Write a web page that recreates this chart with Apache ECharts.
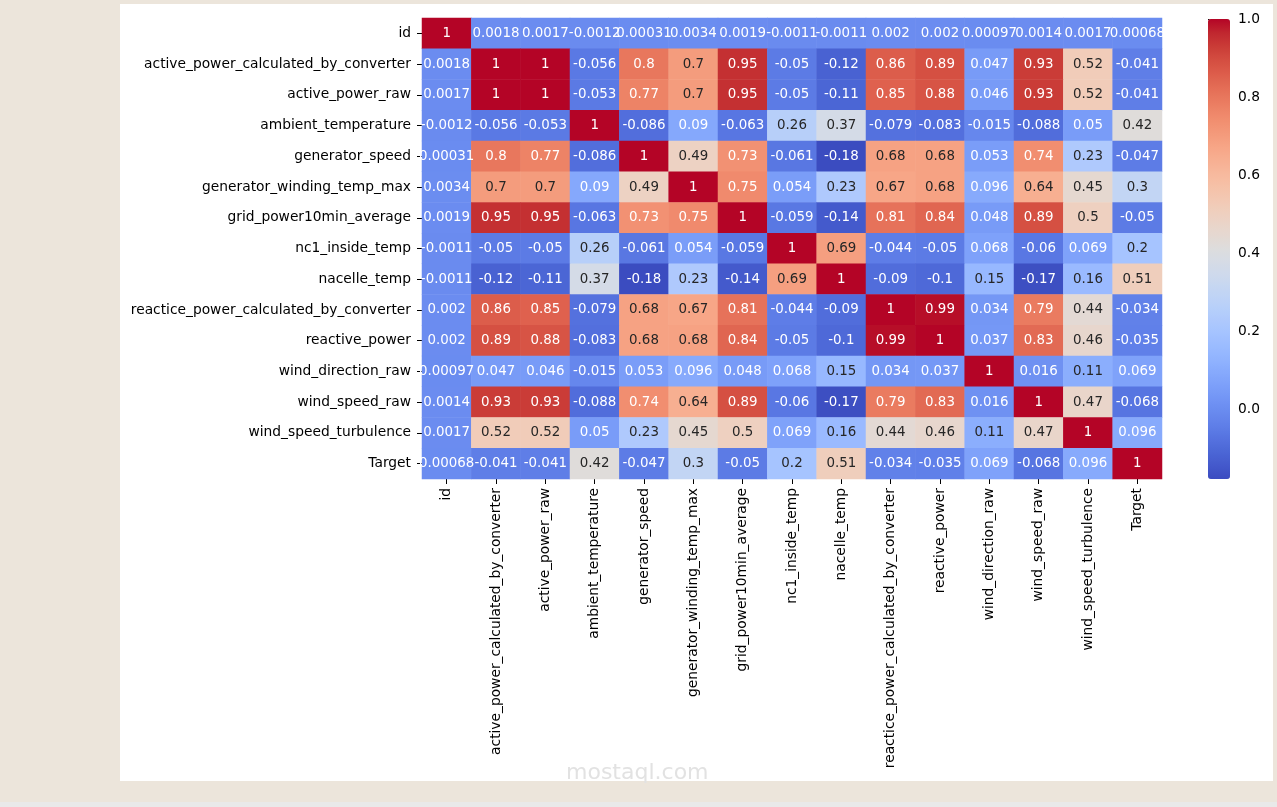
<!DOCTYPE html>
<html>
<head>
<meta charset="utf-8">
<script src="https://cdn.jsdelivr.net/npm/echarts@6/dist/echarts.min.js"></script>
<style>
  html, body { margin: 0; padding: 0; }
  body { width: 1277px; height: 807px; background: #ece5db; position: relative; overflow: hidden; }
  #panel { position: absolute; left: 120px; top: 4px; width: 1153px; height: 777px; background: #fff; }
  #strip { position: absolute; left: 0; top: 802px; width: 1277px; height: 5px; background: #e9e9e9; }
  #main { position: absolute; left: 0; top: 0; width: 1277px; height: 807px; }
</style>
</head>
<body>
<div id="panel"></div>
<div id="strip"></div>
<div id="main"></div>
<script>
// column / row names of the correlation matrix
var features = ['id', 'active_power_calculated_by_converter', 'active_power_raw', 'ambient_temperature',
    'generator_speed', 'generator_winding_temp_max', 'grid_power10min_average', 'nc1_inside_temp',
    'nacelle_temp', 'reactice_power_calculated_by_converter', 'reactive_power', 'wind_direction_raw',
    'wind_speed_raw', 'wind_speed_turbulence', 'Target'];

// one row per feature, same order as features
var corrRows = [
    [1, 0.0018, 0.0017, -0.0012, 0.00031, 0.0034, 0.0019, -0.0011, -0.0011, 0.002, 0.002, 0.00097, 0.0014, 0.0017, 0.00068],
    [0.0018, 1, 1, -0.056, 0.8, 0.7, 0.95, -0.05, -0.12, 0.86, 0.89, 0.047, 0.93, 0.52, -0.041],
    [0.0017, 1, 1, -0.053, 0.77, 0.7, 0.95, -0.05, -0.11, 0.85, 0.88, 0.046, 0.93, 0.52, -0.041],
    [-0.0012, -0.056, -0.053, 1, -0.086, 0.09, -0.063, 0.26, 0.37, -0.079, -0.083, -0.015, -0.088, 0.05, 0.42],
    [0.00031, 0.8, 0.77, -0.086, 1, 0.49, 0.73, -0.061, -0.18, 0.68, 0.68, 0.053, 0.74, 0.23, -0.047],
    [0.0034, 0.7, 0.7, 0.09, 0.49, 1, 0.75, 0.054, 0.23, 0.67, 0.68, 0.096, 0.64, 0.45, 0.3],
    [0.0019, 0.95, 0.95, -0.063, 0.73, 0.75, 1, -0.059, -0.14, 0.81, 0.84, 0.048, 0.89, 0.5, -0.05],
    [-0.0011, -0.05, -0.05, 0.26, -0.061, 0.054, -0.059, 1, 0.69, -0.044, -0.05, 0.068, -0.06, 0.069, 0.2],
    [-0.0011, -0.12, -0.11, 0.37, -0.18, 0.23, -0.14, 0.69, 1, -0.09, -0.1, 0.15, -0.17, 0.16, 0.51],
    [0.002, 0.86, 0.85, -0.079, 0.68, 0.67, 0.81, -0.044, -0.09, 1, 0.99, 0.034, 0.79, 0.44, -0.034],
    [0.002, 0.89, 0.88, -0.083, 0.68, 0.68, 0.84, -0.05, -0.1, 0.99, 1, 0.037, 0.83, 0.46, -0.035],
    [0.00097, 0.047, 0.046, -0.015, 0.053, 0.096, 0.048, 0.068, 0.15, 0.034, 0.037, 1, 0.016, 0.11, 0.069],
    [0.0014, 0.93, 0.93, -0.088, 0.74, 0.64, 0.89, -0.06, -0.17, 0.79, 0.83, 0.016, 1, 0.47, -0.068],
    [0.0017, 0.52, 0.52, 0.05, 0.23, 0.45, 0.5, 0.069, 0.16, 0.44, 0.46, 0.11, 0.47, 1, 0.096],
    [0.00068, -0.041, -0.041, 0.42, -0.047, 0.3, -0.05, 0.2, 0.51, -0.034, -0.035, 0.069, -0.068, 0.096, 1]
];

var colorbarTicks = [0, 0.2, 0.4, 0.6, 0.8, 1.0];
var vmin = -0.177, vmax = 1;

// matplotlib coolwarm
var coolwarm = [
    [59,76,192],[68,90,204],[77,104,215],[87,117,225],[98,130,234],[108,142,241],[119,154,247],
    [130,165,251],[141,176,254],[152,185,255],[163,194,255],[174,201,253],[184,208,249],[194,213,244],
    [204,217,238],[213,219,230],[221,221,221],[229,216,209],[236,211,197],[241,204,184],[245,196,172],
    [247,187,160],[247,177,148],[247,166,135],[244,154,123],[241,141,111],[236,127,99],[229,112,88],
    [222,96,77],[213,80,66],[203,62,56],[192,40,47],[180,4,38]
];
var cwHex = coolwarm.map(function (c) { return 'rgb(' + c.join(',') + ')'; });

function cmap(v) {
    var t = Math.max(0, Math.min(1, (v - vmin) / (vmax - vmin))) * (coolwarm.length - 1);
    var i = Math.min(Math.floor(t), coolwarm.length - 2), f = t - i;
    return [0, 1, 2].map(function (k) { return coolwarm[i][k] + (coolwarm[i + 1][k] - coolwarm[i][k]) * f; });
}
// seaborn picks annotation colour from cell luminance
function textColor(v) {
    var rgb = cmap(v).map(function (c) {
        c = c / 255;
        return c <= 0.03928 ? c / 12.92 : Math.pow((c + 0.055) / 1.055, 2.4);
    });
    var lum = 0.2126 * rgb[0] + 0.7152 * rgb[1] + 0.0722 * rgb[2];
    return lum > 0.408 ? '#262626' : '#ffffff';
}

var cells = [];
corrRows.forEach(function (row, i) {
    row.forEach(function (v, j) {
        cells.push({ value: [j, i, v], label: { color: textColor(v) } });
    });
});

var FONT = 'DejaVu Sans';
var myChart = echarts.init(document.getElementById('main'));
option = {
    backgroundColor: 'transparent',
    textStyle: { fontFamily: FONT },
    animation: false,
    grid: [
        { left: 422, top: 18, width: 740, height: 461 },
        { left: 1208, top: 19, width: 22, height: 460 }
    ],
    xAxis: [
        {
            gridIndex: 0,
            type: 'category',
            data: features,
            axisLine: { show: false },
            axisTick: { show: true, alignWithLabel: true, length: 5, lineStyle: { color: '#000', width: 1 } },
            axisLabel: { rotate: 90, interval: 0, margin: 9, color: '#000', fontSize: 13.8, fontFamily: FONT },
            splitLine: { show: false }
        },
        { gridIndex: 1, type: 'value', show: false }
    ],
    yAxis: [
        {
            gridIndex: 0,
            type: 'category',
            inverse: true,
            data: features,
            axisLine: { show: false },
            axisTick: { show: true, alignWithLabel: true, length: 5, lineStyle: { color: '#000', width: 1 } },
            axisLabel: { interval: 0, margin: 11, color: '#000', fontSize: 13.8, fontFamily: FONT },
            splitLine: { show: false }
        },
        {
            gridIndex: 1,
            type: 'value',
            position: 'right',
            min: vmin,
            max: vmax,
            axisLine: { show: false },
            splitLine: { show: false },
            axisTick: { show: true, customValues: colorbarTicks, length: 5, lineStyle: { color: '#000' } },
            axisLabel: {
                customValues: colorbarTicks, margin: 8, color: '#000', fontSize: 13.8, fontFamily: FONT,
                formatter: function (v) { return v.toFixed(1); }
            }
        }
    ],
    visualMap: {
        type: 'continuous',
        seriesIndex: 0,
        min: vmin,
        max: vmax,
        calculable: false,
        hoverLink: false,
        left: 1208,
        top: 19,
        padding: 0,
        itemWidth: 22,
        itemHeight: 460,
        text: null,
        showLabel: false,
        inRange: { color: cwHex }
    },
    graphic: [
        {
            type: 'text', left: 566, top: 762, silent: true,
            style: { text: 'mostaql.com', fill: '#e2e2e2', font: '22px "DejaVu Sans"' }
        }
    ],
    series: [
        {
            type: 'heatmap',
            xAxisIndex: 0,
            yAxisIndex: 0,
            data: cells,
            label: {
                show: true,
                fontSize: 13.4,
                fontFamily: FONT,
                formatter: function (p) { return String(p.value[2]); }
            },
            itemStyle: { borderWidth: 0 },
            emphasis: { disabled: true }
        }
    ]
};
myChart.setOption(option);
window.onresize = myChart.resize;
</script>
</body>
</html>
